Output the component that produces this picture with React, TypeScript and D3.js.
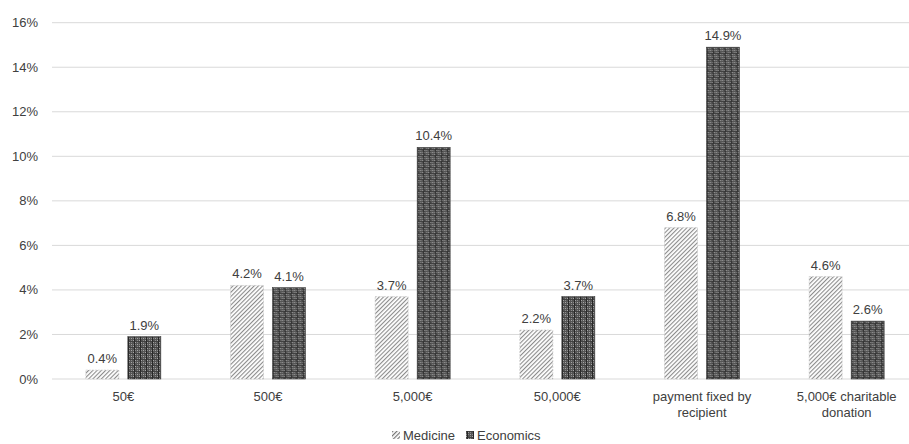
import React from "react";
import * as d3 from "d3";

const categories: string[][] = [
  ["50€"],
  ["500€"],
  ["5,000€"],
  ["50,000€"],
  ["payment fixed by", "recipient"],
  ["5,000€ charitable", "donation"],
];
const seriesNames = ["Medicine", "Economics"];
const medicine = [0.4, 4.2, 3.7, 2.2, 6.8, 4.6];
const economics = [1.9, 4.1, 10.4, 3.7, 14.9, 2.6];
const yTicks = [0, 2, 4, 6, 8, 10, 12, 14, 16];

const W = 909;
const H = 444;
const FONT = "'Liberation Sans', Arial, Helvetica, sans-serif";
const TXT = "#404040";
const FS = 13;

export default function App() {
  const y = d3.scaleLinear().domain([0, 16]).range([379, 22.7]);
  const keys = categories.map((_, i) => String(i));
  const x0 = d3.scaleBand<string>().domain(keys).range([51, 919]).padding(0);
  const step = x0.bandwidth();
  const groupW = 75;
  const x1 = d3
    .scaleBand<string>()
    .domain(seriesNames)
    .range([(step - groupW) / 2, (step + groupW) / 2])
    .paddingInner(9 / 42)
    .paddingOuter(0);
  const values = [medicine, economics];
  const fills = ["url(#hatch)", "url(#grid)"];

  return (
    <svg
      width={W}
      height={H}
      style={{ position: "absolute", left: 0, top: 0, background: "#fff" }}
      fontFamily={FONT}
    >
      <defs>
        <pattern id="hatch" width="3" height="3" patternUnits="userSpaceOnUse" patternTransform="rotate(45)">
          <rect width="3" height="3" fill="#fff" />
          <rect x="0" y="0" width="1.1" height="3" fill="#8c8c8c" />
        </pattern>
        <pattern id="grid" width="6" height="6" patternUnits="userSpaceOnUse">
          <rect width="6" height="6" fill="#555" />
          <rect x="0" y="0" width="1" height="1" fill="#a8a8a8" />
          <rect x="2" y="2" width="1" height="1" fill="#a8a8a8" />
          <rect x="4" y="4" width="1" height="1" fill="#a8a8a8" />
          <rect x="2" y="0" width="1" height="1" fill="#8a8a8a" />
          <rect x="0" y="2" width="1" height="1" fill="#8a8a8a" />
          <rect x="4" y="2" width="1" height="1" fill="#8a8a8a" />
          <rect x="2" y="4" width="1" height="1" fill="#8a8a8a" />
          <rect x="5" y="0" width="1" height="6" fill="#262626" />
          <rect x="0" y="5" width="6" height="0.6" fill="#333" />
        </pattern>
        <pattern id="hatchIcon" width="3" height="3" patternUnits="userSpaceOnUse" patternTransform="rotate(45)">
          <rect width="3" height="3" fill="#fff" />
          <rect x="0" y="0" width="1.2" height="3" fill="#777" />
        </pattern>
      </defs>
      <rect width={W} height={H} fill="#fff" />
      {yTicks.map((t) => (
        <g key={t}>
          <line x1={52} x2={W} y1={y(t)} y2={y(t)} stroke="#d9d9d9" strokeWidth={1} />
          <text x={38} y={y(t)} dy="0.35em" textAnchor="end" fontSize={FS} fill={TXT}>
            {t}%
          </text>
        </g>
      ))}
      {keys.map((k, i) => (
        <g key={k} transform={`translate(${x0(k)},0)`}>
          {seriesNames.map((s, si) => {
            const v = values[si][i];
            const bx = x1(s)!;
            const bw = x1.bandwidth();
            return (
              <g key={s}>
                <rect
                  x={bx}
                  y={y(v)}
                  width={bw}
                  height={y(0) - y(v)}
                  fill={fills[si]}
                  stroke={si === 0 ? "#c4c4c4" : "#3a3a3a"}
                  strokeWidth={0.6}
                  strokeDasharray={si === 0 ? "2,1" : undefined}
                />
                <text x={bx + bw / 2} y={y(v) - 7} textAnchor="middle" fontSize={FS} fill={TXT}>
                  {v.toFixed(1)}%
                </text>
              </g>
            );
          })}
          {categories[i].map((line, li) => (
            <text key={li} x={step / 2} y={401 + li * 16} textAnchor="middle" fontSize={FS} fill={TXT}>
              {line}
            </text>
          ))}
        </g>
      ))}
      <g>
        <rect x={392} y={431} width={8} height={8} fill="url(#hatchIcon)" />
        <text x={403} y={440} fontSize={FS} fill={TXT}>
          {seriesNames[0]}
        </text>
        <rect x={466} y={431} width={8} height={8} fill="url(#grid)" />
        <text x={477} y={440} fontSize={FS} fill={TXT}>
          {seriesNames[1]}
        </text>
      </g>
    </svg>
  );
}
